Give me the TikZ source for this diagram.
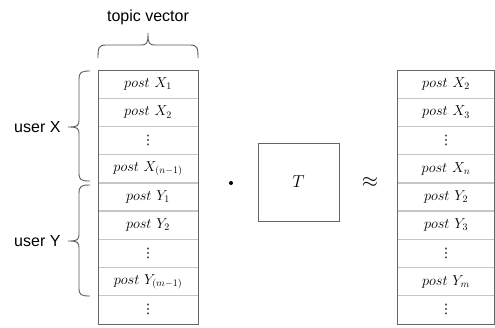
\documentclass[tikz,border=0pt]{standalone}
\usepackage{fontspec}
\setsansfont{Liberation Sans}
\newfontfamily\dvsfont{DejaVu Sans}
\newcommand{\vdts}{{\dvsfont\fontsize{13}{15}\selectfont ⋮}}
\begin{document}
\begin{tikzpicture}[x=1pt,y=-1pt,
 txt/.style={inner sep=1pt, font=\fontsize{14.5}{16}\selectfont},
 sep/.style={draw=gray!45, line width=1.3pt},
 frame/.style={draw=gray!80!black, line width=0.9pt},
 lbl/.style={font=\sffamily\fontsize{16}{18}\selectfont},
 brc/.style={draw=gray!70!black, line width=0.9pt}]
\useasboundingbox (0,0) rectangle (495,327);
% column grids
\foreach \i in {1,...,8} {
  \draw[sep] (98,{70+28.22*\i}) -- (198,{70+28.22*\i});
  \draw[sep] (397.5,{70+28.22*\i}) -- (494,{70+28.22*\i});
}
\draw[frame] (98,70) rectangle (198,324);
\draw[frame] (397.5,70) rectangle (494,324);
% column texts
\foreach \t [count=\i] in {{$post\ X_1$},{$post\ X_2$},{\vdts},{$post\ X_{(n-1)}$},{$post\ Y_1$},{$post\ Y_2$},{\vdts},{$post\ Y_{(m-1)}$},{\vdts}}
  \node[txt] (L\i) at (148,{70+28.22*(\i-0.5)}) {\t};
\foreach \t [count=\i] in {{$post\ X_2$},{$post\ X_3$},{\vdts},{$post\ X_n$},{$post\ Y_2$},{$post\ Y_3$},{\vdts},{$post\ Y_m$},{\vdts}}
  \node[txt] (R\i) at (446,{70+28.22*(\i-0.5)}) {\t};
% operators
\node[circle, fill=black, inner sep=0pt, minimum size=4pt] (dot) at (231,183) {};
\node[draw=gray!80!black, line width=0.9pt, minimum width=81pt, minimum height=78pt, font=\fontsize{18}{20}\selectfont] (T) at (298.5,182) {$T$};
\node[font=\fontsize{22}{24}\selectfont] (approx) at (370,182) {$\approx$};
% top brace
\draw[brc] (98,58) .. controls (98,47) and (99,45) .. (106,45) -- (140,45)
  .. controls (147,45) and (148,44) .. (148,33)
  .. controls (148,44) and (149,45) .. (156,45) -- (190,45)
  .. controls (197,45) and (198,47) .. (198,58);
\node[lbl] (topic) at (148,17) {topic vector};
% user X brace
\draw[brc] (90,71) .. controls (81,71) and (79,72) .. (79,80) -- (79,119)
  .. controls (79,126) and (78,127) .. (68,127)
  .. controls (78,127) and (79,128) .. (79,135) -- (79,173)
  .. controls (79,180) and (81,181) .. (90,181);
\node[lbl, anchor=east] (userX) at (64,127) {user X};
% user Y brace
\draw[brc] (90,185) .. controls (81,185) and (79,186) .. (79,194) -- (79,233)
  .. controls (79,240) and (78,241) .. (68,241)
  .. controls (78,241) and (79,242) .. (79,249) -- (79,288)
  .. controls (79,295) and (81,296) .. (90,296);
\node[lbl, anchor=east] (userY) at (64,241) {user Y};
\end{tikzpicture}
\end{document}
